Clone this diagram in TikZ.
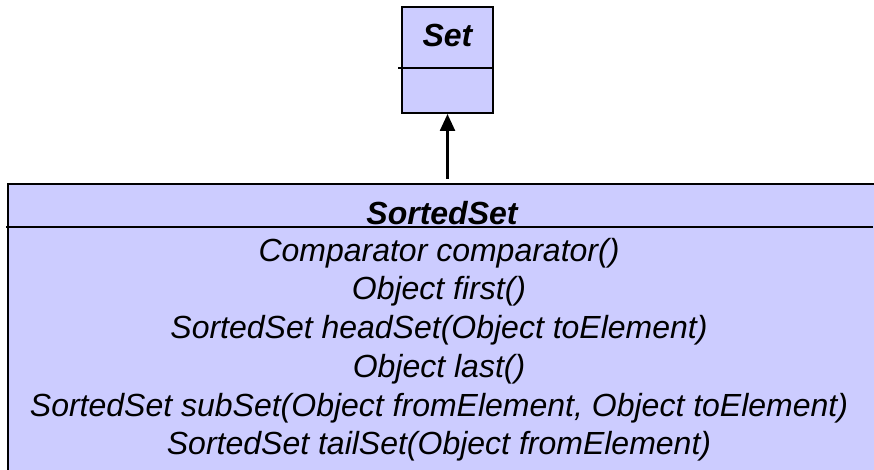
\documentclass[tikz,border=0pt]{standalone}
\usepackage{fontspec}
\setmainfont{Liberation Sans}
\usetikzlibrary{arrows.meta}
\definecolor{classfill}{HTML}{CCCCFF}
\begin{document}
\begin{tikzpicture}[x=1pt,y=-1pt,
    classbox/.style={draw, fill=classfill, line width=2pt, inner sep=0pt},
    classname/.style={font=\fontsize{32}{38}\selectfont\bfseries\itshape, anchor=base, inner sep=0pt},
    method/.style={font=\fontsize{32}{38}\selectfont\itshape, anchor=base, inner sep=0pt}]
    \useasboundingbox (0,0) rectangle (874,470);

    % Set class
    \node[classbox, minimum width=91pt, minimum height=106pt] (set) at (447.5,60) {};
    \draw[line width=2pt] (398,68) -- (494,68);
    \node[classname] (setname) at (447.5,47) {Set};

    % SortedSet class, runs off the page at the right and bottom
    \node[classbox, minimum width=884pt, minimum height=320pt] (sorted) at (450,344) {};
    \draw[line width=2pt] (6,227) -- (873,227);
    \node[classname] (sortedname) at (442,224) {SortedSet};

    % Methods
    \foreach \txt [count=\i] in {Comparator comparator(), Object first(),
        SortedSet headSet(Object toElement), Object last(),
        {SortedSet subSet(Object fromElement, Object toElement)},
        SortedSet tailSet(Object fromElement)} {
        \node[method] (m\i) at (439,222.5+38.7*\i) {\txt};
    }

    % Inheritance
    \draw[line width=2.5pt, -{Triangle[width=15pt,length=17pt]}]
        ([yshift=4pt]sorted.north -| set.south) -- (set.south);
\end{tikzpicture}
\end{document}
